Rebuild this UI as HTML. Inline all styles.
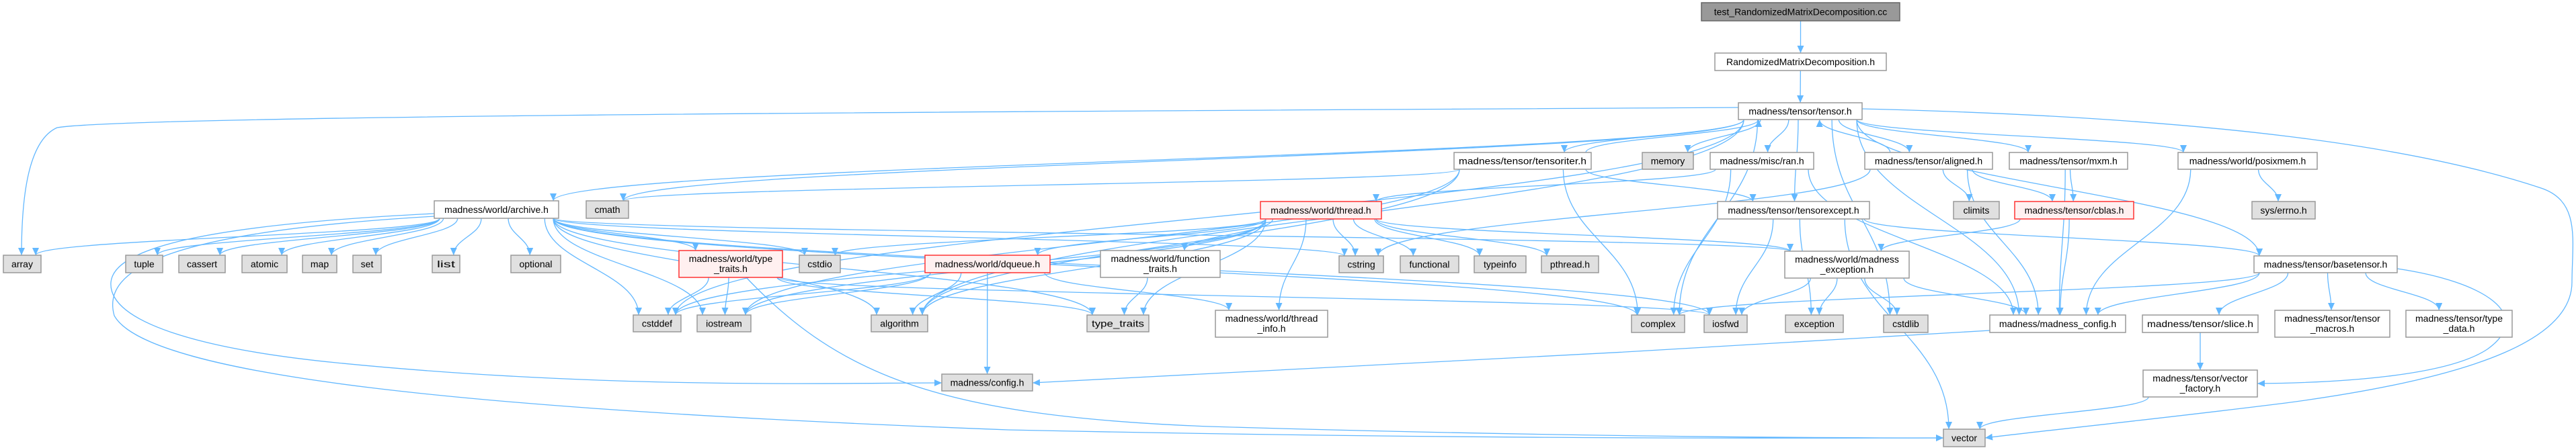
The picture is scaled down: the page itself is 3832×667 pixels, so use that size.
<!DOCTYPE html>
<html><head><meta charset="utf-8">
<style>
html,body{margin:0;padding:0;background:#fff;width:3832px;height:667px;overflow:hidden}
svg text{font-family:"Liberation Sans",sans-serif;font-size:14px;fill:#000}
</style></head>
<body>
<svg id="g" width="3832" height="667" viewBox="0 0 3832 667" xmlns="http://www.w3.org/2000/svg">
<defs>
<marker id="ah" markerUnits="userSpaceOnUse" markerWidth="12" markerHeight="10" refX="11" refY="5" orient="auto">
<path d="M0,0 L11,5 L0,10 z" fill="#63b8ff"/>
</marker>
</defs>
<g id="edges" fill="none" stroke="#63b8ff" stroke-width="1.3"></g>
<g id="nodes"></g>
</svg>
<script>
var N={
test:[2531,4,2826,31,["test_RandomizedMatrixDecomposition.cc"],'t'],
rmd:[2551,79,2806,105,["RandomizedMatrixDecomposition.h"],'w'],
tensor:[2586,153,2770,178,["madness/tensor/tensor.h"],'w'],
tensoriter:[2163,227,2367,252,["madness/tensor/tensoriter.h"],'w'],
memory:[2443,227,2519,252,["memory"],'x'],
ran:[2544,227,2698,252,["madness/misc/ran.h"],'w'],
aligned:[2774,227,2964,252,["madness/tensor/aligned.h"],'w'],
mxm:[2989,227,3165,252,["madness/tensor/mxm.h"],'w'],
posix:[3240,227,3447,252,["madness/world/posixmem.h"],'w'],
archive:[646,299,831,325,["madness/world/archive.h"],'w'],
cmath:[872,299,935,325,["cmath"],'x'],
thread:[1875,300,2055,326,["madness/world/thread.h"],'r'],
texcept:[2555,300,2781,326,["madness/tensor/tensorexcept.h"],'w'],
climits:[2906,300,2974,326,["climits"],'x'],
cblas:[2997,300,3174,326,["madness/tensor/cblas.h"],'r'],
errno:[3350,300,3444,326,["sys/errno.h"],'x'],
array:[5,380,61,406,["array"],'x'],
tuple:[187,380,242,406,["tuple"],'x'],
cassert:[266,380,335,406,["cassert"],'x'],
atomic:[360,380,427,406,["atomic"],'x'],
map:[450,380,501,406,["map"],'x'],
set:[525,380,567,406,["set"],'x'],
list:[643,380,684,406,["list"],'x'],
optional:[760,380,834,406,["optional"],'x'],
wtt:[1010,373,1164,413,["madness/world/type","_traits.h"],'r'],
cstdio:[1189,380,1250,406,["cstdio"],'x'],
dqueue:[1376,380,1562,406,["madness/world/dqueue.h"],'r'],
ftraits:[1637,373,1815,413,["madness/world/function","_traits.h"],'w'],
cstring:[1992,381,2058,406,["cstring"],'x'],
functional:[2083,381,2170,406,["functional"],'x'],
typeinfo:[2193,381,2270,406,["typeinfo"],'x'],
pthread:[2293,381,2378,406,["pthread.h"],'x'],
mexc:[2655,374,2840,414,["madness/world/madness","_exception.h"],'w'],
basetensor:[3353,381,3566,406,["madness/tensor/basetensor.h"],'w'],
cstddef:[942,469,1013,494,["cstddef"],'x'],
iostream:[1037,469,1117,494,["iostream"],'x'],
algorithm:[1296,469,1380,494,["algorithm"],'x'],
type_traits:[1617,469,1709,494,["type_traits"],'x'],
tinfo:[1808,462,1975,502,["madness/world/thread","_info.h"],'w'],
complex:[2427,469,2506,495,["complex"],'x'],
iosfwd:[2535,469,2599,495,["iosfwd"],'x'],
exception:[2656,469,2742,495,["exception"],'x'],
cstdlib:[2802,469,2868,495,["cstdlib"],'x'],
mconfig:[2960,469,3162,495,["madness/madness_config.h"],'w'],
slice:[3187,469,3359,495,["madness/tensor/slice.h"],'w'],
tmacros:[3384,462,3555,502,["madness/tensor/tensor","_macros.h"],'w'],
tdata:[3579,462,3737,502,["madness/tensor/type","_data.h"],'w'],
config:[1401,557,1536,582,["madness/config.h"],'x'],
vfactory:[3188,551,3358,591,["madness/tensor/vector","_factory.h"],'w'],
vector:[2891,639,2953,665,["vector"],'x']
};
var E="test>rmd rmd>tensor tensor>tensoriter tensor>memory tensor>ran tensor>texcept tensor>aligned tensor>mxm tensor>posix tensor>basetensor tensor>complex tensor>cstdlib tensor>mconfig tensor>archive tensor>cmath tensor>cstddef tensor>algorithm "+
"tensoriter>tensor tensoriter>complex tensoriter>texcept tensoriter>iostream tensoriter>cmath tensoriter>algorithm "+
"ran>thread ran>complex ran>mconfig aligned>tensor aligned>climits aligned>cblas aligned>mconfig aligned>cstring "+
"mxm>cblas mxm>mconfig posix>errno posix>mconfig cblas>mexc cblas>mconfig texcept>basetensor texcept>iosfwd texcept>exception texcept>vector "+
"mexc>exception mexc>cstdlib mexc>mconfig mexc>iosfwd basetensor>mconfig basetensor>slice basetensor>tmacros basetensor>tdata basetensor>complex slice>vfactory vfactory>vector "+
"thread>cstring thread>functional thread>typeinfo thread>pthread thread>tinfo thread>type_traits thread>ftraits thread>dqueue thread>cstddef thread>iostream thread>cstdio thread>mexc thread>algorithm "+
"archive>array archive>tuple archive>cassert archive>atomic archive>map archive>set archive>list archive>optional archive>wtt archive>cstdio archive>cstddef archive>iostream archive>algorithm archive>type_traits archive>complex archive>mexc archive>iosfwd archive>cstring "+
"wtt>cstddef wtt>iostream wtt>type_traits wtt>iosfwd dqueue>cstddef dqueue>iostream dqueue>algorithm dqueue>config dqueue>tinfo ftraits>type_traits";
var ns="http://www.w3.org/2000/svg";
var eg=document.getElementById('edges'),ng=document.getElementById('nodes');
function cl(v,a,b){return Math.max(a,Math.min(b,v));}
function addPath(d){var p=document.createElementNS(ns,'path');p.setAttribute('d',d);p.setAttribute('marker-end','url(#ah)');eg.appendChild(p);}
E.split(' ').forEach(function(e){
 var s=N[e.split('>')[0]],t=N[e.split('>')[1]];
 var scx=(s[0]+s[2])/2,tcx=(t[0]+t[2])/2;
 if(t[1]>s[3]){
  var sx=cl(scx+(tcx-scx)*0.3,s[0]+8,s[2]-8),sy=s[3];
  var tx=cl(tcx+(scx-tcx)*0.15,t[0]+8,t[2]-8),ty=t[1];
  var dy=ty-sy;
  addPath('M'+sx+','+sy+' C'+sx+','+(sy+dy*0.45)+' '+tx+','+(ty-dy*0.45)+' '+tx+','+ty);
 } else {
  var sx=cl(scx+(tcx-scx)*0.3,s[0]+8,s[2]-8),sy=s[1];
  var tx=cl(tcx+(scx-tcx)*0.15,t[0]+8,t[2]-8),ty=t[3];
  var dy=sy-ty;
  addPath('M'+sx+','+sy+' C'+sx+','+(sy-dy*0.45)+' '+tx+','+(ty+dy*0.45)+' '+tx+','+ty);
 }
});
addPath('M2586,160 C1800,165 200,170 85,190 C40,210 32,300 32,380');
addPath('M2770,162 C3300,175 3600,220 3780,280 C3840,300 3826,360 3826,420 C3826,500 3700,560 3400,600 C3200,625 3050,640 2953,652');
addPath('M3566,400 C3700,420 3770,470 3700,520 C3640,560 3480,570 3358,571');
addPath('M2960,492 C2500,520 1800,560 1536,570');
addPath('M646,318 C300,335 170,370 165,420 C160,480 300,520 500,540 C900,580 1250,570 1401,570');
addPath('M646,322 C250,345 150,400 170,470 C220,560 700,610 1500,640 C2200,655 2700,652 2891,652');
addPath('M1110,413 C1250,560 1400,620 1800,635 C2300,650 2700,652 2891,652');
for(var k in N){var n=N[k];
 var r=document.createElementNS(ns,'rect');
 r.setAttribute('x',n[0]);r.setAttribute('y',n[1]);r.setAttribute('width',n[2]-n[0]);r.setAttribute('height',n[3]-n[1]);
 var f='#ffffff',st='#999999';
 if(n[5]=='x'){f='#e0e0e0';st='#999999';}
 if(n[5]=='r'){f='#fff0f0';st='#ff3333';}
 if(n[5]=='t'){f='#999999';st='#666666';}
 r.setAttribute('fill',f);r.setAttribute('stroke',st);r.setAttribute('stroke-width','1.5');ng.appendChild(r);
 var L=n[4],cx=(n[0]+n[2])/2,cy=(n[1]+n[3])/2;
 for(var i=0;i<L.length;i++){
  var t=document.createElementNS(ns,'text');
  t.setAttribute('x',cx);t.setAttribute('text-anchor','middle');
  var y=cy+5;
  if(L.length==2) y=n[1]+17+i*15;
  t.setAttribute('y',y);
  var w=L[i].length*7.2; var mw=n[2]-n[0]-14;
  if(w>mw){t.setAttribute('textLength',mw);t.setAttribute('lengthAdjust','spacingAndGlyphs');}
  t.textContent=L[i];ng.appendChild(t);
 }
}
</script>
</body></html>
